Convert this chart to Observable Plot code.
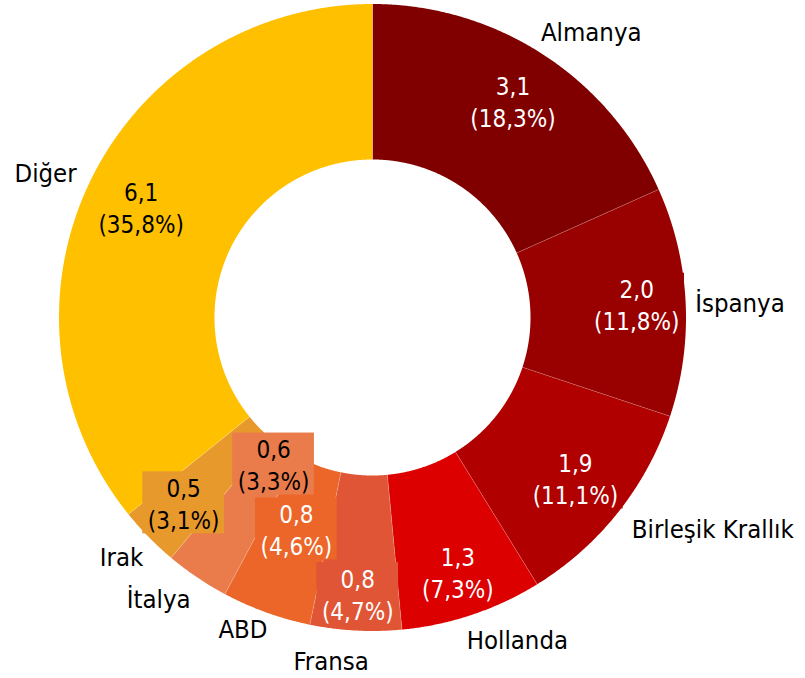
<!DOCTYPE html>
<html>
<head>
<meta charset="utf-8">
<script src="https://cdn.jsdelivr.net/npm/d3@7"></script>
<script src="https://cdn.jsdelivr.net/npm/@observablehq/plot@0.6"></script>
<style>
  html, body { margin: 0; padding: 0; background: #fff; }
  #chart svg { display: block; }
</style>
</head>
<body>
<div id="chart"></div>
<script>
// ---- data ----
const countries = ["Almanya", "İspanya", "Birleşik Krallık", "Hollanda", "Fransa", "ABD", "İtalya", "Irak", "Diğer"];
const values = [3.1, 2.0, 1.9, 1.3, 0.8, 0.8, 0.6, 0.5, 6.1];
const shares = [18.3, 11.8, 11.1, 7.3, 4.7, 4.6, 3.3, 3.1, 35.8];

// ---- styles ----
const colors = ["#800000", "#990000", "#B00000", "#DD0000", "#E05535", "#EB6628", "#EA7B4A", "#E8992C", "#FFC000"];
const valueTextColors = ["#fff", "#fff", "#fff", "#fff", "#fff", "#fff", "#000", "#000", "#000"];
const FONT = "'DejaVu Sans Condensed', 'DejaVu Sans', sans-serif";
const FS = 24;        // value labels
const FS_NAME = 25.5; // category labels

// ---- layout ----
const W = 805, H = 678, CX = 372, CY = 317, R = 313.5, INNER = 0.504;
const valueRadius = [0.824, 0.844, 0.825, 0.857, 0.882, 0.717, 0.564, 0.844, 0.818];
const labelRadius = [1.145, 1.173, 1.279, 1.13, 1.106, 1.080, 1.130, 1.108, 1.139];
const labelShift = [4.6, 0.7, -6.4, -5.6, 3.8, 2.7, 3.1, 0.7, -1.85];
const LINE_PX = 32, PAD = 5, BOX_H = 62;

const fmt = v => v.toFixed(1).replace(".", ",");
const total = d3.sum(shares);

// slice geometry
let cum = 0;
const slices = countries.map((name, i) => {
  const a0 = cum / total * 2 * Math.PI;
  cum += shares[i];
  const a1 = cum / total * 2 * Math.PI;
  return {name, i, a0, a1, mid: (a0 + a1) / 2};
});

const polys = slices.map(s => {
  const n = Math.max(2, Math.ceil((s.a1 - s.a0) / (Math.PI / 720)));
  const pts = [];
  for (let k = 0; k <= n; k++) {
    const a = s.a0 + (s.a1 - s.a0) * k / n;
    pts.push({x: Math.sin(a), y: Math.cos(a)});
  }
  for (let k = n; k >= 0; k--) {
    const a = s.a0 + (s.a1 - s.a0) * k / n;
    pts.push({x: INNER * Math.sin(a), y: INNER * Math.cos(a)});
  }
  return pts;
});

const separators = slices.map(s => ({
  x1: INNER * Math.sin(s.a0), y1: INNER * Math.cos(s.a0),
  x2: Math.sin(s.a0), y2: Math.cos(s.a0)
}));

// text measurement
const ctx = document.createElement("canvas").getContext("2d");
ctx.font = `${FS}px ${FONT}`;

const valueLabels = slices.map(s => {
  const r = valueRadius[s.i];
  const text = `${fmt(values[s.i])}\n(${fmt(shares[s.i])}%)`;
  const w = Math.max(...text.split("\n").map(t => ctx.measureText(t).width)) + 2 * PAD;
  const x = r * Math.sin(s.mid), y = r * Math.cos(s.mid);
  return {
    x, y, text,
    fill: colors[s.i], color: valueTextColors[s.i],
    x1: x - w / 2 / R, x2: x + w / 2 / R,
    y1: y - BOX_H / 2 / R, y2: y + BOX_H / 2 / R
  };
});

const nameLabels = slices.map(s => {
  const a = s.mid + labelShift[s.i] * Math.PI / 180;
  const r = labelRadius[s.i];
  return {x: r * Math.sin(a), y: r * Math.cos(a), text: s.name};
});

const marks = [];
polys.forEach((pts, i) => {
  marks.push(Plot.line(pts, {x: "x", y: "y", fill: colors[i], stroke: "none", curve: "linear-closed"}));
});
marks.push(Plot.link(separators, {x1: "x1", y1: "y1", x2: "x2", y2: "y2", stroke: "#ffffff", strokeOpacity: 0.3, strokeWidth: 0.7}));
marks.push(Plot.rect(valueLabels, {x1: "x1", x2: "x2", y1: "y1", y2: "y2", fill: "fill"}));
marks.push(Plot.text(valueLabels, {x: "x", y: "y", text: "text", fill: "color", fontSize: FS, lineHeight: LINE_PX / FS, fontFamily: FONT}));
marks.push(Plot.text(nameLabels, {x: "x", y: "y", text: "text", fill: "#000", fontSize: FS_NAME, fontFamily: FONT}));

const chart = Plot.plot({
  width: W, height: H,
  marginTop: 0, marginRight: 0, marginBottom: 0, marginLeft: 0,
  x: {domain: [-1, 1], range: [CX - R, CX + R], axis: null},
  y: {domain: [-1, 1], range: [CY + R, CY - R], axis: null},
  color: {type: "identity"},
  style: {fontFamily: FONT, background: "#fff"},
  marks
});
document.getElementById("chart").appendChild(chart);
</script>
</body>
</html>
